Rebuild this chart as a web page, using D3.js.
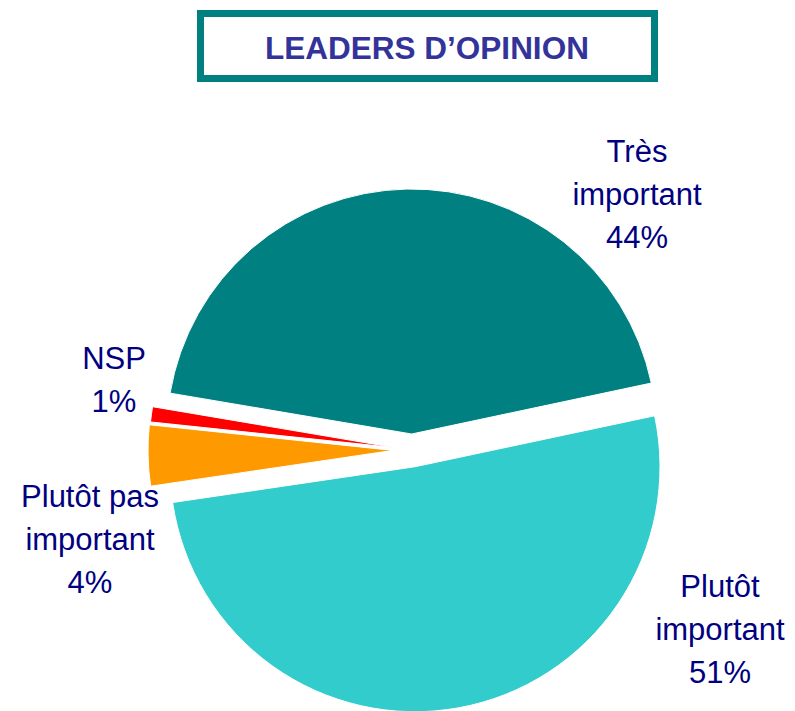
<!DOCTYPE html>
<html>
<head>
<meta charset="utf-8">
<script src="https://cdn.jsdelivr.net/npm/d3@7"></script>
<style>
    body { margin: 0; background: #fff; }
    svg { display: block; font-family: "Liberation Sans", Arial, sans-serif; }
</style>
</head>
<body>
<div id="chart"></div>
<script>
var title = "LEADERS D\u2019OPINION";
var categories = ["Très important", "Plutôt important", "Plutôt pas important", "NSP"];
var values = [44, 51, 4, 1];
var colors = ["#008080", "#33cccc", "#ff9900", "#ff0000"];
// label lines per slice, as in the picture
var labelLines = [
    ["Très", "important", "44%"],
    ["Plutôt", "important", "51%"],
    ["Plutôt pas", "important", "4%"],
    ["NSP", "1%"]
];

var width = 795,
    height = 711,
    cx = 412,
    cy = 450,
    radius = 245,
    // how far each slice is pulled out of the pie
    explode = [16, 17, 19, 18],
    // label anchor (centre of first baseline) for each slice
    labelPos = [[637, 162], [720, 597], [90, 507], [114, 369]],
    lineHeight = 43;

var svg = d3.select("#chart").append("svg")
    .attr("width", width)
    .attr("height", height);

// title box
svg.append("rect")
    .attr("x", 200.5).attr("y", 13.5)
    .attr("width", 454).attr("height", 65)
    .attr("fill", "#fff")
    .attr("stroke", "#008080")
    .attr("stroke-width", 7);

svg.append("text")
    .attr("x", 427).attr("y", 59)
    .attr("text-anchor", "middle")
    .attr("font-weight", "bold")
    .attr("font-size", 31.5)
    .attr("fill", "#333399")
    .text(title);

var pie = d3.pie()
    .sort(null)
    .startAngle(-80.4 * Math.PI / 180)
    .endAngle((360 - 80.4) * Math.PI / 180);

var arc = d3.arc().innerRadius(0).outerRadius(radius);

var arcs = pie(values);

svg.selectAll("path.slice")
    .data(arcs)
    .enter().append("path")
    .attr("class", "slice")
    .attr("d", arc)
    .attr("fill", function (d, i) { return colors[i]; })
    .attr("stroke", "#fff")
    .attr("stroke-width", 1)
    .attr("transform", function (d, i) {
        var mid = (d.startAngle + d.endAngle) / 2,
            dx = Math.sin(mid) * explode[i],
            dy = -Math.cos(mid) * explode[i];
        return "translate(" + (cx + dx) + "," + (cy + dy) + ")";
    });

var labels = svg.selectAll("text.label")
    .data(arcs)
    .enter().append("text")
    .attr("class", "label")
    .attr("text-anchor", "middle")
    .attr("font-size", 31)
    .attr("fill", "#000080");

labels.each(function (d, i) {
    var t = d3.select(this);
    labelLines[i].forEach(function (line, j) {
        t.append("tspan")
            .attr("x", labelPos[i][0])
            .attr("y", labelPos[i][1] + j * lineHeight)
            .text(line);
    });
});
</script>
</body>
</html>
